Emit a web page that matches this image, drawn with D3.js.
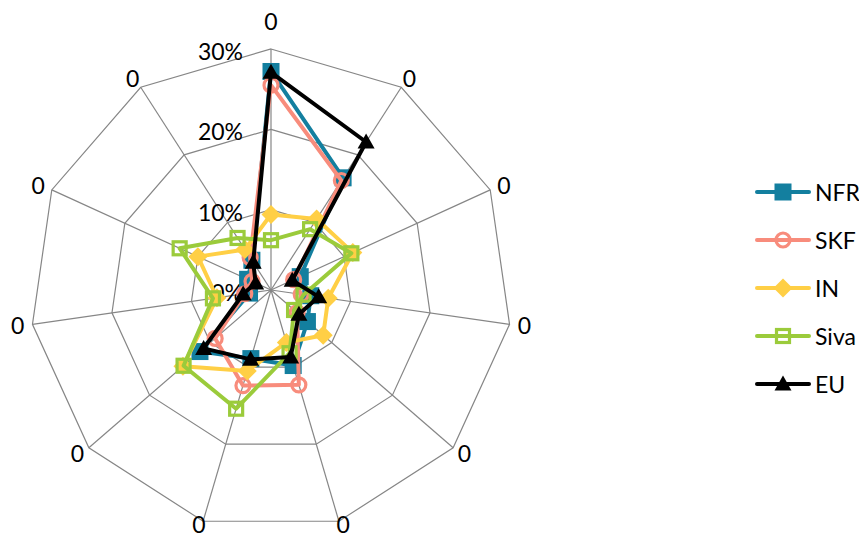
<!DOCTYPE html>
<html>
<head>
<meta charset="utf-8">
<script src="https://cdn.jsdelivr.net/npm/d3@7"></script>
<style>
  html, body { margin: 0; padding: 0; background: #fff; }
  svg { display: block; font-family: Lato, "Open Sans", sans-serif; }
</style>
</head>
<body>
<svg id="chart" width="859" height="540"></svg>
<script>
// ---- data ----
const axisLabels = ["0","0","0","0","0","0","0","0","0","0","0"];
const tickValues = [0, 10, 20, 30];
const tickLabels = ["0%", "10%", "20%", "30%"];
const seriesNames = ["NFR", "SKF", "IN", "Siva", "EU"];
const nfr  = [27.2, 16.6, 4.0, 5.0, 6.0, 9.8, 8.9, 11.7, 2.7, 3.2, 4.4];
const skf  = [25.5, 16.2, 3.1, 3.8, 4.3, 12.3, 12.4, 9.2, 3.3, 2.6, 4.8];
const inn  = [9.4, 10.5, 11.2, 7.2, 8.6, 6.8, 10.5, 14.5, 6.8, 10.0, 6.0];
const siva = [6.2, 9.0, 11.0, 4.1, 3.8, 8.2, 15.4, 14.4, 7.3, 12.5, 7.7];
const eu   = [27.1, 21.9, 2.9, 6.0, 4.6, 8.7, 9.0, 11.1, 3.5, 2.1, 4.1];

const seriesValues = [nfr, skf, inn, siva, eu];
const colors = ["#137F9F", "#F88C7C", "#FFCF45", "#9BCB3B", "#000000"];
const markers = ["square", "circle", "diamond", "squareOpen", "triangle"];

// ---- layout ----
const svg = d3.select("#chart");
const cx = 271, cy = 290, R = 241;
const n = axisLabels.length;
const step = 2 * Math.PI / n;
const r = d3.scaleLinear().domain([0, 30]).range([0, R]);
const pt = (i, v) => [cx + r(v) * Math.sin(i * step), cy - r(v) * Math.cos(i * step)];

const grid = svg.append("g");
tickValues.filter(t => t > 0).forEach(t => {
  grid.append("path")
    .attr("d", d3.lineRadial().angle((d, i) => i * step).radius(() => r(t)).curve(d3.curveLinearClosed)(d3.range(n)))
    .attr("transform", `translate(${cx},${cy})`)
    .attr("fill", "none").attr("stroke", "#868686").attr("stroke-width", 1.2);
});
d3.range(n).forEach(i => {
  const [x, y] = pt(i, 30);
  grid.append("line").attr("x1", cx).attr("y1", cy).attr("x2", x).attr("y2", y)
    .attr("stroke", "#868686").attr("stroke-width", 1.2);
});
d3.range(n).forEach(i => {
  const a = i * step, dx = Math.sin(a), dy = -Math.cos(a);
  const [x, y] = pt(i, 30);
  let lx = x + dx * 15, ly = y + dy * (dy > 0.9 ? 3 : dy > 0 ? 8 : 11);
  if (i === 0) ly = y - 28;
  svg.append("text").attr("x", lx).attr("y", ly)
    .attr("text-anchor", "middle").attr("dominant-baseline", "central")
    .attr("font-size", 23).attr("fill", "#000").text(axisLabels[i]);
});
tickValues.forEach((t, k) => {
  svg.append("text").attr("x", cx - 28).attr("y", cy - r(t) + 2)
    .attr("text-anchor", "end").attr("dominant-baseline", "central")
    .attr("font-size", 23).attr("fill", "#000").text(tickLabels[k]);
});

// ---- markers ----
function drawMarker(g, type, x, y, color) {
  if (type === "square") {
    g.append("rect").attr("x", x - 8.5).attr("y", y - 8.5).attr("width", 17).attr("height", 17).attr("fill", color);
  } else if (type === "circle") {
    g.append("circle").attr("cx", x).attr("cy", y).attr("r", 7).attr("fill", "none").attr("stroke", color).attr("stroke-width", 3.2);
  } else if (type === "diamond") {
    g.append("path").attr("d", `M${x},${y-9.5}L${x+9.5},${y}L${x},${y+9.5}L${x-9.5},${y}Z`).attr("fill", color);
  } else if (type === "squareOpen") {
    g.append("rect").attr("x", x - 6.5).attr("y", y - 6.5).attr("width", 13).attr("height", 13).attr("fill", "none").attr("stroke", color).attr("stroke-width", 3.2);
  } else if (type === "triangle") {
    g.append("path").attr("d", `M${x},${y-8.5}L${x+8.5},${y+6.5}L${x-8.5},${y+6.5}Z`).attr("fill", color);
  }
}

// ---- series ----
const line = d3.lineRadial().angle((d, i) => i * step).radius(d => r(d)).curve(d3.curveLinearClosed);
seriesValues.forEach((vals, s) => {
  const g = svg.append("g");
  g.append("path").attr("d", line(vals)).attr("transform", `translate(${cx},${cy})`)
    .attr("fill", "none").attr("stroke", colors[s]).attr("stroke-width", 4).attr("stroke-linejoin", "round");
  vals.forEach((v, i) => {
    const [x, y] = pt(i, v);
    drawMarker(g, markers[s], x, y, colors[s]);
  });
});

// ---- legend ----
const lg = svg.append("g");
seriesNames.forEach((name, s) => {
  const y = 192 + s * 48;
  lg.append("line").attr("x1", 757).attr("x2", 809).attr("y1", y).attr("y2", y)
    .attr("stroke", colors[s]).attr("stroke-width", 4).attr("stroke-linecap", "round");
  drawMarker(lg, markers[s], 783, y, colors[s]);
  lg.append("text").attr("x", 815).attr("y", y).attr("dominant-baseline", "central")
    .attr("font-size", 23).attr("fill", "#000").text(name);
});
</script>
</body>
</html>
